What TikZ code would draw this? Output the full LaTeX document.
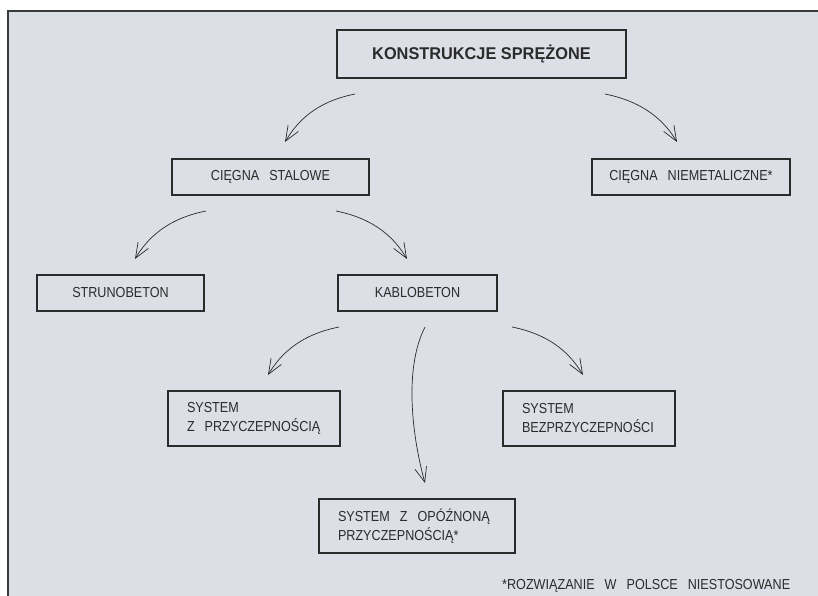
\documentclass[tikz,border=0pt]{standalone}
\usepackage{fontspec}
\setmainfont[FakeStretch=0.87]{Liberation Sans}
\newfontfamily\titlefont[FakeStretch=0.96]{Liberation Sans}
\usetikzlibrary{arrows.meta}
\definecolor{bg}{HTML}{DCDFE6}
\definecolor{ink}{HTML}{2B2B2B}
\definecolor{frameln}{HTML}{3A3A3A}
\newcommand\wg{\hspace{10pt}}
\begin{document}
\begin{tikzpicture}[x=1pt,y=-1pt,
  lbl/.style={text=ink, font=\fontsize{14.5}{19}\selectfont},
  box/.style={lbl, draw=ink, line width=1.3pt, inner sep=0pt, minimum height=36pt},
  mbox/.style={box, align=left, inner xsep=19pt, minimum height=55pt},
  arr/.style={draw=ink, line width=0.7pt, -{Straight Barb[length=15pt,width=12pt]}}]
\useasboundingbox (0,0) rectangle (818,596);
\fill[white] (0,0) rectangle (818,596);
\fill[bg] (8,11) rectangle (818,596);
\draw[frameln, line width=1.2pt] (8,596) -- (8,11) -- (818,11);

% boxes
\node[box, minimum width=289pt, minimum height=48pt, font=\titlefont\fontsize{17}{19}\selectfont\bfseries] (title) at (481.5,54) {KONSTRUKCJE SPRĘŻONE};
\node[box, minimum width=197pt] (stal) at (270.5,177) {CIĘGNA\wg{}STALOWE};
\node[box, minimum width=198pt] (niem) at (691,177) {CIĘGNA\wg{}NIEMETALICZNE*};
\node[box, minimum width=167pt] (stru) at (120.5,293) {STRUNOBETON};
\node[box, minimum width=159pt] (kabl) at (417.5,293) {KABLOBETON};
\node[mbox, text width=134pt] (zprz) at (254,418.5) {SYSTEM\\\mbox{Z\wg{}PRZYCZEPNOŚCIĄ}};
\node[mbox, text width=134pt] (bezp) at (589,418.5) {SYSTEM\\\mbox{BEZPRZYCZEPNOŚCI}};
\node[mbox, text width=158pt, minimum height=54pt] (opoz) at (417,526) {\mbox{SYSTEM\wg{}Z\wg{}OPÓŹNONĄ}\\\mbox{PRZYCZEPNOŚCIĄ*}};
\node[lbl, inner sep=0pt, anchor=base west] (foot) at (502,589) {*ROZWIĄZANIE\wg{}W\wg{}POLSCE\wg{}NIESTOSOWANE};

% arrow end points
\coordinate (a1s) at (355,94);  \coordinate (a1e) at (285,142);
\coordinate (a2s) at (605,94);  \coordinate (a2e) at (677,142);
\coordinate (a3s) at (206,211); \coordinate (a3e) at (135,259);
\coordinate (a4s) at (336,211); \coordinate (a4e) at (407,259);
\coordinate (a5s) at (339,327); \coordinate (a5e) at (268,375);
\coordinate (a6s) at (425,327); \coordinate (a6e) at (425,483);
\coordinate (a7s) at (512,327); \coordinate (a7e) at (583,375);

\draw[arr] (a1s) .. controls +(-40,8) and +(12,-20) .. (a1e);
\draw[arr] (a2s) .. controls +(40,8) and +(-12,-20) .. (a2e);
\draw[arr] (a3s) .. controls +(-40,8) and +(12,-20) .. (a3e);
\draw[arr] (a4s) .. controls +(40,8) and +(-12,-20) .. (a4e);
\draw[arr] (a5s) .. controls +(-40,8) and +(12,-20) .. (a5e);
\draw[arr] (a7s) .. controls +(40,8) and +(-12,-20) .. (a7e);
\draw[arr] (a6s) .. controls +(-22,43) and +(-12,-43) .. (a6e);
\end{tikzpicture}
\end{document}
